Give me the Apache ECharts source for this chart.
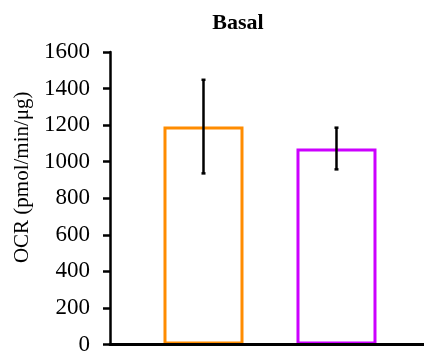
<!DOCTYPE html>
<html>
<head>
<meta charset="utf-8">
<script src="https://cdn.jsdelivr.net/npm/echarts@6/dist/echarts.min.js"></script>
<style>html,body{margin:0;padding:0;background:#fff}#c{width:424px;height:356px}</style>
</head>
<body>
<div id="c"></div>
<script>
// Data
var groups = ["Group 1", "Group 2"];
var positions = [1, 2];
var means = [1192, 1072];
var errors = [256, 114];
var barColors = ["#FF8C00", "#CC00FF"];
var yTicks = { min: 0, max: 1600, interval: 200 };
var titleText = "Basal";
var yName = "OCR (pmol/min/\u03bcg)";

var chart = echarts.init(document.getElementById('c'), null, { renderer: 'canvas' });
var serif = 'Liberation Serif';

var barData = means.map(function (m, i) {
  return { value: [positions[i], m], itemStyle: { color: '#ffffff', borderColor: barColors[i], borderWidth: 3 } };
});
var errData = means.map(function (m, i) { return [positions[i], m - errors[i], m + errors[i]]; });

chart.setOption({
  animation: false,
  backgroundColor: '#ffffff',
  title: {
    text: titleText, left: 233, top: 7, textAlign: 'center',
    textStyle: { fontFamily: serif, fontWeight: 'bold', fontSize: 22, color: '#000' }
  },
  grid: { left: 110, right: 0, top: 52, bottom: 10, containLabel: false },
  xAxis: {
    type: 'value', min: 0.297, max: 2.658, z: 10,
    axisLine: { show: true, onZero: false, lineStyle: { color: '#000', width: 3 } },
    axisTick: { show: false }, axisLabel: { show: false }, splitLine: { show: false }
  },
  yAxis: {
    type: 'value', min: yTicks.min, max: yTicks.max, interval: yTicks.interval, z: 10,
    name: yName, nameLocation: 'middle', nameGap: 74,
    nameTextStyle: { fontFamily: serif, fontSize: 21, color: '#000', padding: [0, 0, 0, 42] },
    axisLine: { show: true, lineStyle: { color: '#000', width: 2.5 } },
    axisTick: { show: true, inside: false, length: 7, lineStyle: { color: '#000', width: 2.5 } },
    axisLabel: { margin: 20, fontFamily: serif, fontSize: 23, color: '#000', formatter: function (v) { return String(v); } },
    splitLine: { show: false }
  },
  series: [
    { type: 'bar', data: barData, barWidth: 80, z: 2 },
    {
      type: 'custom', z: 5, data: errData,
      renderItem: function (params, api) {
        var x = api.value(0);
        var lo = api.coord([x, api.value(1)]);
        var hi = api.coord([x, api.value(2)]);
        var cap = 2;
        var st = { stroke: '#000', lineWidth: 2.5 };
        return {
          type: 'group', children: [
            { type: 'line', shape: { x1: lo[0], y1: lo[1], x2: hi[0], y2: hi[1] }, style: st },
            { type: 'line', shape: { x1: lo[0] - cap, y1: lo[1], x2: lo[0] + cap, y2: lo[1] }, style: st },
            { type: 'line', shape: { x1: hi[0] - cap, y1: hi[1], x2: hi[0] + cap, y2: hi[1] }, style: st }
          ]
        };
      }
    }
  ]
});
</script>
</body>
</html>
